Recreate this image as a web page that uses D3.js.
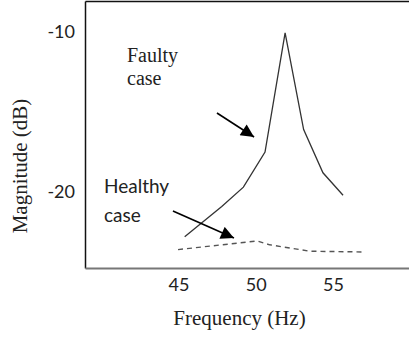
<!DOCTYPE html>
<html>
<head>
<meta charset="utf-8">
<script src="https://cdn.jsdelivr.net/npm/d3@7"></script>
<style>
  body { margin: 0; background: #fff; }
  svg { display: block; }
</style>
</head>
<body>
<div class="chart"></div>
<script>
// data
const faultyFreq = [45.4, 47.8, 49.2, 50.6, 51.9, 53.1, 54.35, 55.65];
const faultyMag = [-22.8, -20.9, -19.7, -17.5, -10.06, -16.1, -18.8, -20.2];
const healthyFreq = [44.97, 50.1, 50.9, 53.5, 57.1];
const healthyMag = [-23.6, -23.06, -23.3, -23.7, -23.75];
const xTicks = [45, 50, 55];
const yTicks = [-10, -20];

const SERIF = 'Liberation Serif';
const SANS = 'Lato';

const width = 409, height = 338;
let margins = { top: 1.5, right: 0, bottom: 69.5, left: 85.5 };

const svg = d3.select('.chart').append('svg')
  .attr('width', width)
  .attr('height', height);

const x = d3.scaleLinear().domain([45, 55]).range([178.5, 333]);
const y = d3.scaleLinear().domain([-10, -20]).range([32, 192]);

const plotBottom = height - margins.bottom;

// frame: left + top black, bottom grey
svg.append('line')
  .attr('x1', margins.left).attr('x2', margins.left)
  .attr('y1', margins.top).attr('y2', plotBottom)
  .attr('stroke', '#111').attr('stroke-width', 1.5);
svg.append('line')
  .attr('x1', margins.left).attr('x2', width)
  .attr('y1', margins.top).attr('y2', margins.top)
  .attr('stroke', '#111').attr('stroke-width', 1.5);
svg.append('line')
  .attr('x1', margins.left).attr('x2', width)
  .attr('y1', plotBottom).attr('y2', plotBottom)
  .attr('stroke', '#777').attr('stroke-width', 2);

// axes (labels only, plain hyphen for minus)
const xAxis = d3.axisBottom(x).tickValues(xTicks).tickSize(0).tickPadding(0)
  .tickFormat(d => String(d));
const yAxis = d3.axisLeft(y).tickValues(yTicks).tickSize(0).tickPadding(0)
  .tickFormat(d => String(d));

svg.append('g')
  .attr('transform', 'translate(0,' + 278 + ')')
  .attr('font-family', SANS)
  .call(xAxis)
  .attr('font-family', SANS)
  .attr('font-size', 18)
  .call(g => g.select('.domain').remove())
  .selectAll('text')
  .attr('dy', '0.71em')
  .attr('fill', '#222');

svg.append('g')
  .attr('transform', 'translate(' + 75 + ',0)')
  .call(yAxis)
  .attr('font-family', SANS)
  .attr('font-size', 18)
  .call(g => g.select('.domain').remove())
  .selectAll('text')
  .attr('fill', '#222');

// axis titles
svg.append('text')
  .attr('x', 239.5).attr('y', 325)
  .attr('text-anchor', 'middle')
  .attr('font-family', SERIF)
  .attr('font-size', 21)
  .attr('fill', '#222')
  .text('Frequency (Hz)');

svg.append('text')
  .attr('transform', 'translate(27,166) rotate(-90)')
  .attr('text-anchor', 'middle')
  .attr('font-family', SERIF)
  .attr('font-size', 21)
  .attr('fill', '#222')
  .text('Magnitude (dB)');

// lines
const line = d3.line().x(d => x(d[0])).y(d => y(d[1]));

svg.append('path')
  .datum(healthyFreq.map((f, i) => [f, healthyMag[i]]))
  .attr('d', line)
  .attr('fill', 'none')
  .attr('stroke', '#555')
  .attr('stroke-width', 1.4)
  .attr('stroke-dasharray', '5,4');

svg.append('path')
  .datum(faultyFreq.map((f, i) => [f, faultyMag[i]]))
  .attr('d', line)
  .attr('fill', 'none')
  .attr('stroke', '#333')
  .attr('stroke-width', 1.3);

// annotation arrows
svg.append('defs').append('marker')
  .attr('id', 'head')
  .attr('viewBox', '0 0 10 10')
  .attr('refX', 10).attr('refY', 5)
  .attr('markerWidth', 15).attr('markerHeight', 13)
  .attr('markerUnits', 'userSpaceOnUse')
  .attr('orient', 'auto')
  .append('path')
  .attr('d', 'M0,0 L10,5 L0,10 Z')
  .attr('fill', '#000');

const arrows = [
  { from: [47.49, -15.06], to: [49.89, -16.56] },
  { from: [44.64, -21.19], to: [48.59, -22.88] }
];
svg.selectAll('.arrow')
  .data(arrows)
  .enter()
  .append('line')
  .attr('class', 'arrow')
  .attr('x1', d => x(d.from[0])).attr('y1', d => y(d.from[1]))
  .attr('x2', d => x(d.to[0])).attr('y2', d => y(d.to[1]))
  .attr('stroke', '#000')
  .attr('stroke-width', 1.6)
  .attr('marker-end', 'url(#head)');

// labels
const labels = [
  { text: 'Faulty', x: 127, y: 62, font: SERIF, size: 20 },
  { text: 'case', x: 127, y: 85, font: SERIF, size: 20 },
  { text: 'Healthy', x: 104, y: 193, font: SANS, size: 19 },
  { text: 'case', x: 104, y: 222, font: SANS, size: 19 }
];
svg.selectAll('.label')
  .data(labels)
  .enter()
  .append('text')
  .attr('class', 'label')
  .attr('x', d => d.x).attr('y', d => d.y)
  .attr('font-family', d => d.font)
  .attr('font-size', d => d.size)
  .attr('fill', '#222')
  .text(d => d.text);
</script>
</body>
</html>
